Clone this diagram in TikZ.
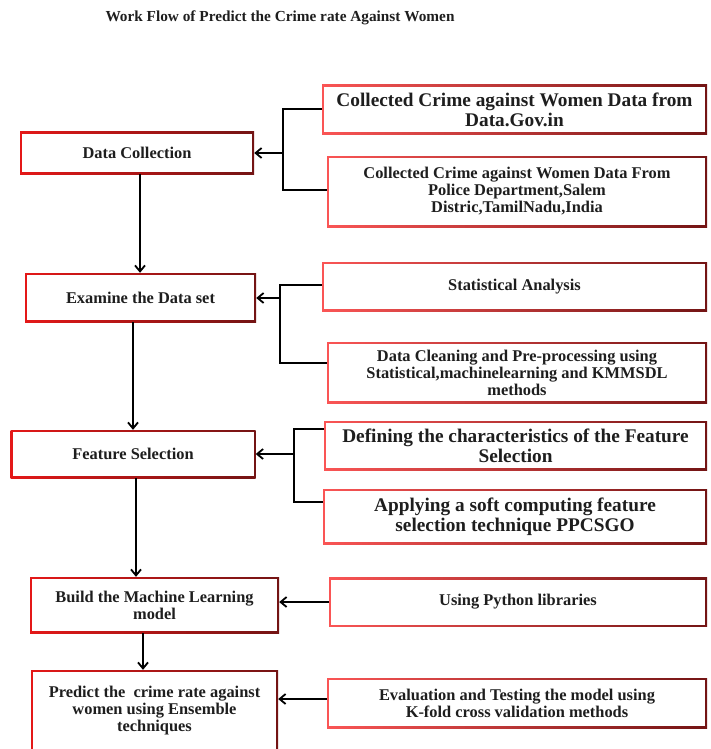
\documentclass[tikz,border=0pt]{standalone}
\usepackage{fontspec}
\setmainfont{Liberation Serif}
\usetikzlibrary{arrows.meta}
\definecolor{lred}{RGB}{228,24,24}
\definecolor{rred}{RGB}{250,85,85}
\definecolor{dred}{RGB}{115,20,20}
\definecolor{txt}{RGB}{30,30,30}
\newcommand\myfsmall{\fontsize{16.4}{17}\selectfont\bfseries}
\newcommand\myflarge{\fontsize{19.3}{20}\selectfont\bfseries}
\newcommand\myftitle{\fontsize{15.3}{18}\selectfont\bfseries}
\tikzset{
  gbox/.style={rectangle, inner sep=0pt, align=center, text=txt,
    path picture={\fill[white] ([shift={(2pt,-2pt)}]path picture bounding box.north west)
      rectangle ([shift={(-2pt,2pt)}]path picture bounding box.south east);}},
  mbox/.style={gbox, left color=lred, middle color=lred!85!dred, right color=dred, font=\myfsmall},
  sbox/.style={gbox, left color=rred, middle color=rred!85!dred, right color=dred, font=\myfsmall},
  lbox/.style={sbox, font=\myflarge},
  conn/.style={line width=2pt, black},
  arr/.style={line width=2pt, black, -{Straight Barb[length=6pt,width=10pt,line width=1.8pt]}}
}
\begin{document}
\begin{tikzpicture}[x=1pt,y=-1pt]
\useasboundingbox (0,0) rectangle (710,749);
\clip (0,0) rectangle (710,749);
\node[font=\myftitle, text=txt] (title) at (280,18) {Work Flow of Predict the Crime rate Against Women};

% left column
\node[mbox, minimum width=234pt, minimum height=42pt] (B1) at (137,153) {Data Collection};
\node[mbox, minimum width=231pt, minimum height=49pt] (B2) at (140.5,297.5) {Examine the Data set};
\node[mbox, minimum width=245pt, minimum height=48pt] (B3) at (133,454) {Feature Selection};
\node[mbox, minimum width=249pt, minimum height=56pt] (B4) at (154.5,605) {Build the Machine Learning\\model};
\node[mbox, minimum width=247pt, minimum height=82pt] (B5) at (154.5,711) {Predict the \ crime rate against\\women using Ensemble\\techniques};

% right column
\node[lbox, minimum width=385pt, minimum height=49pt] (R1) at (514.5,109.5) {Collected Crime against Women Data from\\Data.Gov.in};
\node[sbox, minimum width=380pt, minimum height=71pt] (R2) at (517,191.5) {Collected Crime against Women Data From\\Police Department,Salem\\Distric,TamilNadu,India};
\node[sbox, minimum width=385pt, minimum height=49pt] (R3) at (514.5,286.5) {Statistical Analysis};
\node[sbox, minimum width=380pt, minimum height=61pt] (R4) at (517,372.5) {Data Cleaning and Pre-processing using\\Statistical,machinelearning and KMMSDL\\methods};
\node[lbox, minimum width=383pt, minimum height=49pt] (R5) at (515.5,445.5) {Defining the characteristics of the Feature\\Selection};
\node[lbox, minimum width=384pt, minimum height=55pt] (R6) at (515,516.5) {Applying a soft computing feature\\selection technique PPCSGO};
\node[sbox, minimum width=378pt, minimum height=49pt] (R7) at (518,602) {Using Python libraries};
\node[sbox, minimum width=380pt, minimum height=50pt] (R8) at (517,703) {Evaluation and Testing the model using\\K-fold cross validation methods};

% brackets
\coordinate (g1) at (283,153);
\coordinate (g2) at (280,298);
\coordinate (g3) at (294,454);
\draw[conn] (R1.west) -| (g1) |- ([yshift=1.5pt]R2.west);
\draw[arr] (g1) -- (B1.east);
\draw[conn] ([yshift=1.5pt]R3.west) -| (g2) |- ([yshift=9.5pt]R4.west);
\draw[arr] (g2) -- (g2 -| B2.east);
\draw[conn] ([yshift=16.5pt]R5.west) -| (g3) |- ([yshift=14.5pt]R6.west);
\draw[arr] (g3) -- (B3.east);
\draw[arr] (R7.west) -- (R7.west -| B4.east);
\draw[arr] ([yshift=4pt]R8.west) -- ([yshift=4pt]R8.west -| B5.east);

% vertical flow
\draw[arr] ([xshift=3pt]B1.south) -- ([xshift=3pt]B1.south |- B2.north);
\draw[arr] (B3.north |- B2.south) -- (B3.north);
\draw[arr] ([xshift=3pt]B3.south) -- ([xshift=3pt]B3.south |- B4.north);
\draw[arr] ([xshift=-11.5pt]B4.south) -- ([xshift=-11.5pt]B4.south |- B5.north);
\end{tikzpicture}
\end{document}
